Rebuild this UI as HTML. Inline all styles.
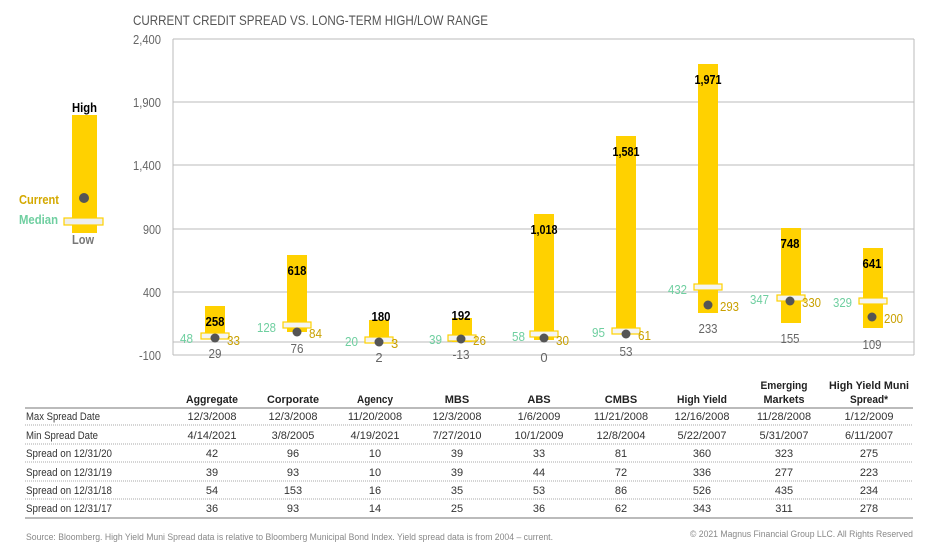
<!DOCTYPE html>
<html><head><meta charset="utf-8"><style>
body{margin:0;background:#fff;}
svg{display:block;font-family:"Liberation Sans Narrow","Liberation Sans",sans-serif;}
</style></head><body>
<svg width="932" height="545" viewBox="0 0 932 545" xmlns="http://www.w3.org/2000/svg">
<text x="133" y="25" font-size="14" fill="#555" textLength="355" lengthAdjust="spacingAndGlyphs">CURRENT CREDIT SPREAD VS. LONG-TERM HIGH/LOW RANGE</text>
<g stroke="#bbb" stroke-width="1">
<line x1="173" y1="39" x2="914" y2="39"/><line x1="173" y1="102" x2="914" y2="102"/>
<line x1="173" y1="165" x2="914" y2="165"/><line x1="173" y1="229" x2="914" y2="229"/>
<line x1="173" y1="292" x2="914" y2="292"/><line x1="173" y1="342" x2="914" y2="342"/>
<line x1="173" y1="355" x2="914" y2="355"/>
<line x1="173" y1="39" x2="173" y2="355"/><line x1="914" y1="39" x2="914" y2="355"/>
</g>
<g font-size="13" fill="#666" text-anchor="end">
<text x="161" y="44" textLength="28" lengthAdjust="spacingAndGlyphs">2,400</text>
<text x="161" y="107" textLength="28" lengthAdjust="spacingAndGlyphs">1,900</text>
<text x="161" y="170" textLength="28" lengthAdjust="spacingAndGlyphs">1,400</text>
<text x="161" y="234" textLength="18" lengthAdjust="spacingAndGlyphs">900</text>
<text x="161" y="297" textLength="18" lengthAdjust="spacingAndGlyphs">400</text>
<text x="161" y="360" textLength="22" lengthAdjust="spacingAndGlyphs">-100</text>
</g>
<rect x="72" y="115" width="25" height="118" fill="#FFD100"/>
<circle cx="84" cy="198" r="5" fill="#555"/>
<rect x="64" y="218" width="39" height="7" fill="#eee" stroke="#FFD100" stroke-width="1.2"/>
<text x="72" y="112" font-size="13" font-weight="bold" fill="#000" textLength="25" lengthAdjust="spacingAndGlyphs">High</text>
<text x="19" y="204" font-size="13" font-weight="bold" fill="#d4a900" textLength="40" lengthAdjust="spacingAndGlyphs">Current</text>
<text x="19" y="224" font-size="13" font-weight="bold" fill="#6fcfa0" textLength="39" lengthAdjust="spacingAndGlyphs">Median</text>
<text x="72" y="244" font-size="13" font-weight="bold" fill="#777" textLength="22" lengthAdjust="spacingAndGlyphs">Low</text>
<g fill="#FFD100">
<rect x="205" y="306" width="20" height="32"/>
<rect x="287" y="255" width="20" height="77"/>
<rect x="369" y="320" width="20" height="22"/>
<rect x="452" y="318" width="20" height="24"/>
<rect x="534" y="214" width="20" height="126"/>
<rect x="616" y="136" width="20" height="197"/>
<rect x="698" y="64" width="20" height="249"/>
<rect x="781" y="228" width="20" height="95"/>
<rect x="863" y="248" width="20" height="80"/>
</g>
<g fill="#f4f4f4" stroke="#FFD100" stroke-width="1.2">
<rect x="201" y="333" width="28" height="6"/>
<rect x="283" y="322" width="28" height="6"/>
<rect x="365" y="337" width="28" height="6"/>
<rect x="448" y="335" width="28" height="6"/>
<rect x="530" y="331" width="28" height="6"/>
<rect x="612" y="328" width="28" height="6"/>
<rect x="694" y="284" width="28" height="6"/>
<rect x="777" y="295" width="28" height="6"/>
<rect x="859" y="298" width="28" height="6"/>
</g>
<g fill="#555">
<circle cx="215" cy="338" r="4.5"/><circle cx="297" cy="332" r="4.5"/><circle cx="379" cy="342" r="4.5"/>
<circle cx="461" cy="339" r="4.5"/><circle cx="544" cy="338" r="4.5"/><circle cx="626" cy="334" r="4.5"/>
<circle cx="708" cy="305" r="4.5"/><circle cx="790" cy="301" r="4.5"/><circle cx="872" cy="317" r="4.5"/>
</g>
<g font-size="13" font-weight="bold" fill="#000" text-anchor="middle" lengthAdjust="spacingAndGlyphs">
<text x="215" y="326" textLength="19" lengthAdjust="spacingAndGlyphs">258</text>
<text x="297" y="275" textLength="19" lengthAdjust="spacingAndGlyphs">618</text>
<text x="381" y="321" textLength="19" lengthAdjust="spacingAndGlyphs">180</text>
<text x="461" y="320" textLength="19" lengthAdjust="spacingAndGlyphs">192</text>
<text x="544" y="234" textLength="27" lengthAdjust="spacingAndGlyphs">1,018</text>
<text x="626" y="156" textLength="27" lengthAdjust="spacingAndGlyphs">1,581</text>
<text x="708" y="84" textLength="27" lengthAdjust="spacingAndGlyphs">1,971</text>
<text x="790" y="248" textLength="19" lengthAdjust="spacingAndGlyphs">748</text>
<text x="872" y="268" textLength="19" lengthAdjust="spacingAndGlyphs">641</text>
</g>
<g font-size="13" fill="#6fcfa0" text-anchor="end">
<text x="193" y="343" textLength="13" lengthAdjust="spacingAndGlyphs">48</text>
<text x="276" y="332" textLength="19" lengthAdjust="spacingAndGlyphs">128</text>
<text x="358" y="346" textLength="13" lengthAdjust="spacingAndGlyphs">20</text>
<text x="442" y="344" textLength="13" lengthAdjust="spacingAndGlyphs">39</text>
<text x="525" y="341" textLength="13" lengthAdjust="spacingAndGlyphs">58</text>
<text x="605" y="337" textLength="13" lengthAdjust="spacingAndGlyphs">95</text>
<text x="687" y="294" textLength="19" lengthAdjust="spacingAndGlyphs">432</text>
<text x="769" y="304" textLength="19" lengthAdjust="spacingAndGlyphs">347</text>
<text x="852" y="307" textLength="19" lengthAdjust="spacingAndGlyphs">329</text>
</g>
<g font-size="13" fill="#c9a000">
<text x="227" y="345" textLength="13" lengthAdjust="spacingAndGlyphs">33</text>
<text x="309" y="338" textLength="13" lengthAdjust="spacingAndGlyphs">84</text>
<text x="391" y="348">3</text>
<text x="473" y="345" textLength="13" lengthAdjust="spacingAndGlyphs">26</text>
<text x="556" y="345" textLength="13" lengthAdjust="spacingAndGlyphs">30</text>
<text x="638" y="340" textLength="13" lengthAdjust="spacingAndGlyphs">61</text>
<text x="720" y="311" textLength="19" lengthAdjust="spacingAndGlyphs">293</text>
<text x="802" y="307" textLength="19" lengthAdjust="spacingAndGlyphs">330</text>
<text x="884" y="323" textLength="19" lengthAdjust="spacingAndGlyphs">200</text>
</g>
<g font-size="13" fill="#666" text-anchor="middle">
<text x="215" y="358" textLength="13" lengthAdjust="spacingAndGlyphs">29</text>
<text x="297" y="353" textLength="13" lengthAdjust="spacingAndGlyphs">76</text>
<text x="379" y="362">2</text>
<text x="461" y="359" textLength="17" lengthAdjust="spacingAndGlyphs">-13</text>
<text x="544" y="362">0</text>
<text x="626" y="356" textLength="13" lengthAdjust="spacingAndGlyphs">53</text>
<text x="708" y="333" textLength="19" lengthAdjust="spacingAndGlyphs">233</text>
<text x="790" y="343" textLength="19" lengthAdjust="spacingAndGlyphs">155</text>
<text x="872" y="349" textLength="19" lengthAdjust="spacingAndGlyphs">109</text>
</g>
<g font-size="11" font-weight="bold" fill="#222" text-anchor="middle">
<text x="212" y="403" textLength="52" lengthAdjust="spacingAndGlyphs">Aggregate</text>
<text x="293" y="403" textLength="52" lengthAdjust="spacingAndGlyphs">Corporate</text>
<text x="375" y="403" textLength="36" lengthAdjust="spacingAndGlyphs">Agency</text>
<text x="457" y="403">MBS</text><text x="539" y="403">ABS</text><text x="621" y="403">CMBS</text>
<text x="702" y="403" textLength="50" lengthAdjust="spacingAndGlyphs">High Yield</text>
<text x="784" y="389" textLength="47" lengthAdjust="spacingAndGlyphs">Emerging</text>
<text x="784" y="403" textLength="41" lengthAdjust="spacingAndGlyphs">Markets</text>
<text x="869" y="389" textLength="80" lengthAdjust="spacingAndGlyphs">High Yield Muni</text>
<text x="869" y="403" textLength="38" lengthAdjust="spacingAndGlyphs">Spread*</text>
</g>
<line x1="25" y1="408" x2="913" y2="408" stroke="#777" stroke-width="1"/>
<g stroke="#aaa" stroke-width="1" stroke-dasharray="1,1">
<line x1="25" y1="425" x2="913" y2="425"/><line x1="25" y1="444" x2="913" y2="444"/>
<line x1="25" y1="462" x2="913" y2="462"/><line x1="25" y1="481" x2="913" y2="481"/>
<line x1="25" y1="499" x2="913" y2="499"/>
</g>
<line x1="25" y1="518" x2="913" y2="518" stroke="#777" stroke-width="1"/>
<g font-size="11" fill="#333">
<text x="26" y="420" textLength="74" lengthAdjust="spacingAndGlyphs">Max Spread Date</text>
<text x="26" y="439" textLength="72" lengthAdjust="spacingAndGlyphs">Min Spread Date</text>
<text x="26" y="457" textLength="86" lengthAdjust="spacingAndGlyphs">Spread on 12/31/20</text>
<text x="26" y="476" textLength="86" lengthAdjust="spacingAndGlyphs">Spread on 12/31/19</text>
<text x="26" y="494" textLength="86" lengthAdjust="spacingAndGlyphs">Spread on 12/31/18</text>
<text x="26" y="512" textLength="86" lengthAdjust="spacingAndGlyphs">Spread on 12/31/17</text>
</g>
<g font-size="11" fill="#333" text-anchor="middle" transform="translate(0,0)">
<text y="420"><tspan x="212">12/3/2008</tspan><tspan x="293">12/3/2008</tspan><tspan x="375">11/20/2008</tspan><tspan x="457">12/3/2008</tspan><tspan x="539">1/6/2009</tspan><tspan x="621">11/21/2008</tspan><tspan x="702">12/16/2008</tspan><tspan x="784">11/28/2008</tspan><tspan x="869">1/12/2009</tspan></text>
<text y="439"><tspan x="212">4/14/2021</tspan><tspan x="293">3/8/2005</tspan><tspan x="375">4/19/2021</tspan><tspan x="457">7/27/2010</tspan><tspan x="539">10/1/2009</tspan><tspan x="621">12/8/2004</tspan><tspan x="702">5/22/2007</tspan><tspan x="784">5/31/2007</tspan><tspan x="869">6/11/2007</tspan></text>
<text y="457"><tspan x="212">42</tspan><tspan x="293">96</tspan><tspan x="375">10</tspan><tspan x="457">39</tspan><tspan x="539">33</tspan><tspan x="621">81</tspan><tspan x="702">360</tspan><tspan x="784">323</tspan><tspan x="869">275</tspan></text>
<text y="476"><tspan x="212">39</tspan><tspan x="293">93</tspan><tspan x="375">10</tspan><tspan x="457">39</tspan><tspan x="539">44</tspan><tspan x="621">72</tspan><tspan x="702">336</tspan><tspan x="784">277</tspan><tspan x="869">223</tspan></text>
<text y="494"><tspan x="212">54</tspan><tspan x="293">153</tspan><tspan x="375">16</tspan><tspan x="457">35</tspan><tspan x="539">53</tspan><tspan x="621">86</tspan><tspan x="702">526</tspan><tspan x="784">435</tspan><tspan x="869">234</tspan></text>
<text y="512"><tspan x="212">36</tspan><tspan x="293">93</tspan><tspan x="375">14</tspan><tspan x="457">25</tspan><tspan x="539">36</tspan><tspan x="621">62</tspan><tspan x="702">343</tspan><tspan x="784">311</tspan><tspan x="869">278</tspan></text>
</g>
<text x="26" y="540" font-size="9" fill="#888" textLength="527" lengthAdjust="spacingAndGlyphs">Source: Bloomberg. High Yield Muni Spread data is relative to Bloomberg Municipal Bond Index. Yield spread data is from 2004 – current.</text>
<text x="913" y="537" font-size="9" fill="#888" text-anchor="end" textLength="223" lengthAdjust="spacingAndGlyphs">© 2021 Magnus Financial Group LLC. All Rights Reserved</text>
</svg>
</body></html>
